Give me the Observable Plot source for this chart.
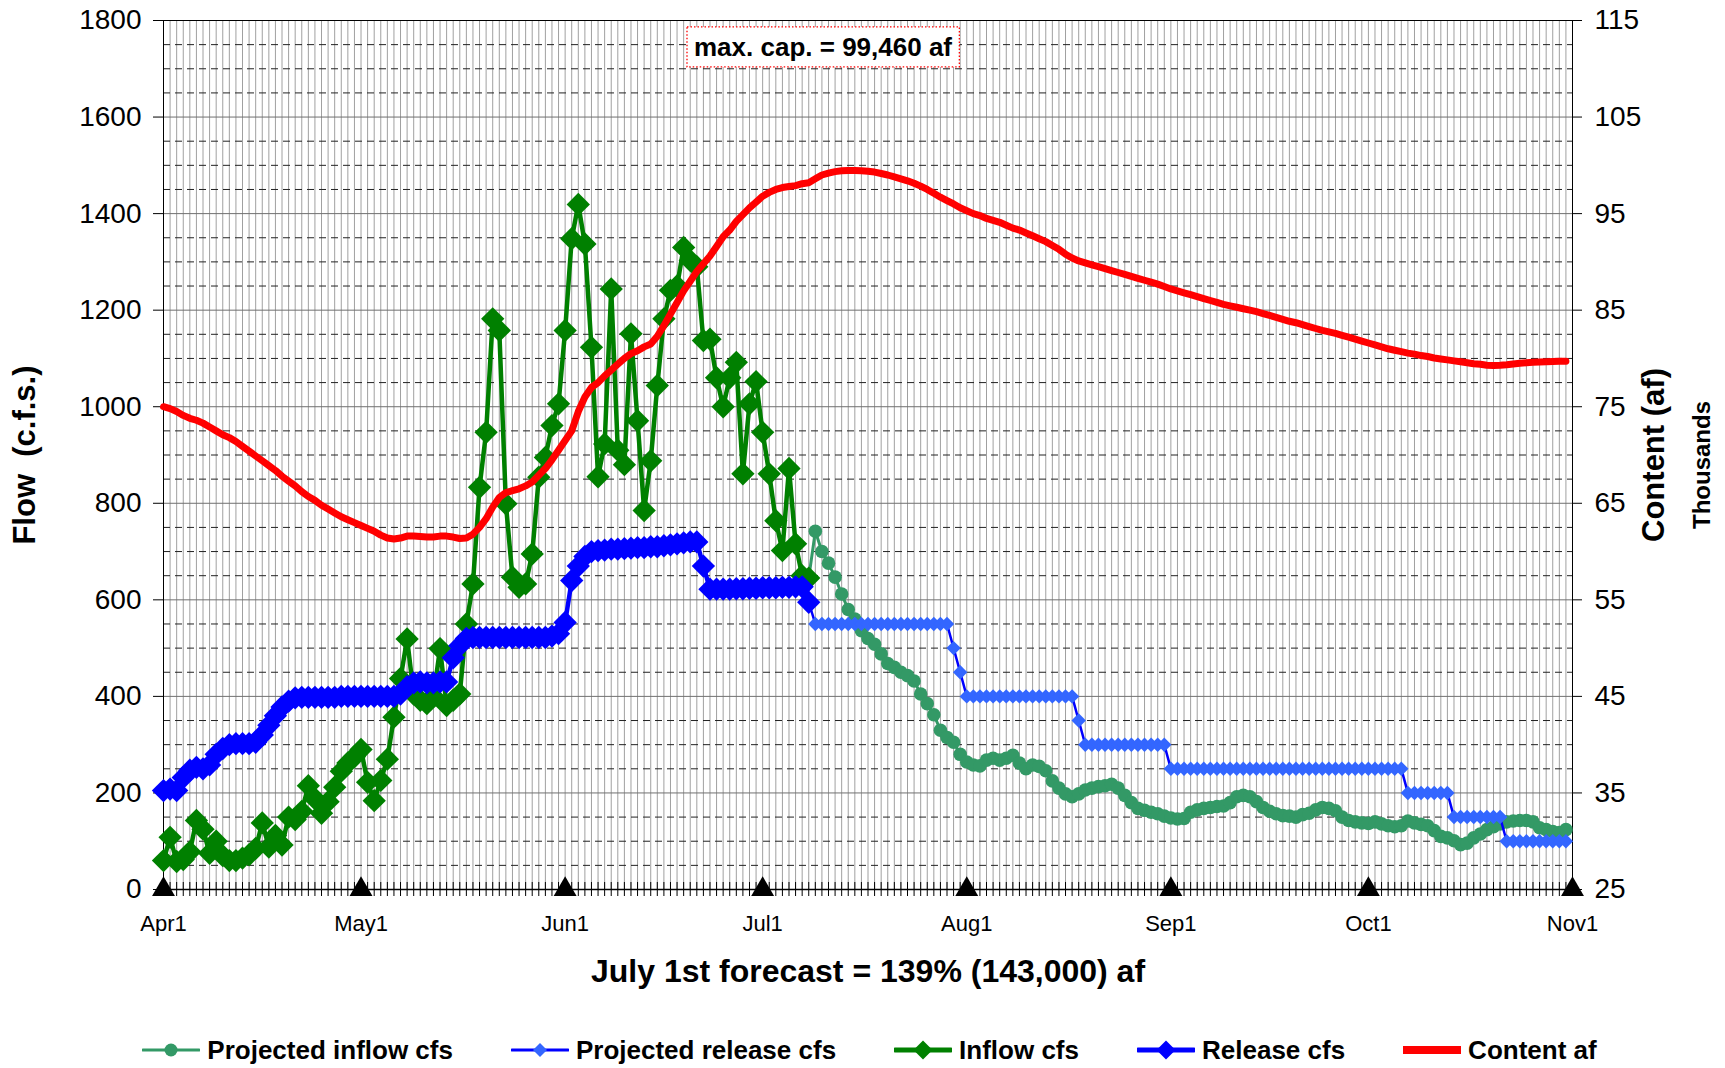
<!DOCTYPE html>
<html><head><meta charset="utf-8">
<script src="https://cdn.jsdelivr.net/npm/d3@7"></script>
<script src="https://cdn.jsdelivr.net/npm/@observablehq/plot@0.6"></script>
<style>
html,body{margin:0;background:#fff;font-family:"Liberation Sans",Arial,sans-serif;overflow:hidden;}
#legend{display:flex;justify-content:center;align-items:center;height:36px;margin-top:32px;padding-left:14px;font-weight:bold;font-size:26px;line-height:36px;color:#000;}
.li{display:flex;align-items:center;margin:0 29px;}
.li svg{margin-right:7px;}
</style></head><body>
<div id="chart" style="height:1000px"></div>
<div id="legend"></div>
<script>
// ---------- data ----------
const firstDay = "2011-04-01";          // day 0 of the observed series
const axisStart = "2011-04-01";
const axisEnd = "2011-11-01";
const projectedStart = "2011-07-08";    // projected series start date

const monthTicks = ["2011-04-01","2011-05-01","2011-06-01","2011-07-01","2011-08-01","2011-09-01","2011-10-01","2011-11-01"];
const monthLabels = ["Apr1","May1","Jun1","Jul1","Aug1","Sep1","Oct1","Nov1"];
const flowTicks = [0,200,400,600,800,1000,1200,1400,1600,1800];
const flowMinor = [50,100,150,250,300,350,450,500,550,650,700,750,850,900,950,1050,1100,1150,1250,1300,1350,1450,1500,1550,1650,1700,1750];
const contentTicks = [25,35,45,55,65,75,85,95,105,115];

// Inflow cfs (observed), daily from Apr 1
const inflow = [
 60,108,58,62,78,143,125,75,100,70,
 60,60,65,72,85,138,88,112,92,150,
 145,162,215,188,158,182,212,245,262,275,
 290,222,184,226,270,357,437,519,405,392,
 385,400,499,381,392,405,550,633,833,947,
 1182,1158,799,647,626,633,695,854,895,961,
 1006,1158,1348,1419,1337,1123,855,923,1244,910,
 880,1151,971,785,888,1044,1182,1241,1250,1330,
 1303,1290,1137,1140,1060,1000,1060,1092,861,1006,
 1052,947,861,764,702,872,716,650,645];

// Release cfs (observed), daily from Apr 1
const release = [
 205,208,205,232,247,253,250,258,280,292,
 300,302,302,302,305,320,340,360,378,390,
 397,398,398,398,398,398,398,400,400,400,
 400,400,400,400,400,400,405,420,428,430,
 428,428,430,430,480,505,520,522,522,522,
 522,522,522,522,522,522,522,522,522,525,
 530,553,640,670,690,700,702,703,705,705,
 706,707,708,708,710,710,712,714,716,718,
 720,720,670,622,622,622,622,623,623,624,
 624,625,625,625,626,626,627,627,595];

// Projected inflow cfs, daily from Jul 8
const projInflow = [
 645,742,700,676,647,612,580,560,536,520,
 508,488,468,460,450,443,432,405,385,362,
 330,315,305,280,264,258,256,268,272,268,
 272,278,262,250,258,255,246,225,210,198,
 192,198,206,210,213,215,218,210,195,180,
 168,164,160,157,152,148,146,147,160,165,
 168,170,172,173,180,192,195,192,182,170,
 162,157,153,152,150,155,158,165,170,168,
 163,150,143,140,138,137,140,136,132,130,
 132,142,138,135,132,122,110,107,101,93,
 96,107,115,124,130,136,140,142,143,143,
 140,128,124,120,118,124];

// Projected release cfs, daily from Jul 8
const projRelease = [
 595,550,550,550,550,550,550,550,550,550,
 550,550,550,550,550,550,550,550,550,550,
 550,550,500,450,400,400,400,400,400,400,
 400,400,400,400,400,400,400,400,400,400,
 400,350,300,300,300,300,300,300,300,300,
 300,300,300,300,300,250,250,250,250,250,
 250,250,250,250,250,250,250,250,250,250,
 250,250,250,250,250,250,250,250,250,250,
 250,250,250,250,250,250,250,250,250,250,
 250,200,200,200,200,200,200,200,150,150,
 150,150,150,150,150,150,100,100,100,100,
 100,100,100,100,100,100];

// Content (thousand af), daily from Apr 1
const content = [
 75.0,74.8,74.5,74.1,73.8,73.6,73.3,72.9,72.5,72.1,
 71.8,71.4,70.9,70.4,69.9,69.4,68.9,68.4,67.8,67.3,
 66.8,66.2,65.7,65.3,64.8,64.4,64.0,63.6,63.3,63.0,
 62.7,62.4,62.1,61.7,61.4,61.3,61.4,61.6,61.6,61.55,
 61.5,61.5,61.6,61.6,61.5,61.35,61.4,61.8,62.5,63.4,
 64.6,65.6,66.1,66.3,66.5,66.8,67.2,67.9,68.6,69.5,
 70.5,71.5,72.5,74.5,76.0,77.0,77.5,78.2,78.8,79.4,
 80.0,80.5,80.8,81.2,81.5,82.3,83.4,84.6,85.8,87.0,
 88.0,89.0,89.8,90.6,91.6,92.6,93.3,94.2,94.9,95.6,
 96.2,96.8,97.2,97.5,97.7,97.8,97.9,98.1,98.2,98.6,
 99.0,99.2,99.35,99.43,99.46,99.46,99.44,99.38,99.3,99.15,
 99.0,98.8,98.6,98.4,98.15,97.85,97.5,97.1,96.7,96.35,
 96.0,95.6,95.3,95.0,94.8,94.5,94.3,94.1,93.8,93.5,
 93.3,93.0,92.7,92.4,92.1,91.7,91.3,90.8,90.4,90.1,
 89.9,89.7,89.5,89.3,89.1,88.9,88.7,88.5,88.3,88.1,
 87.9,87.7,87.45,87.2,87.0,86.8,86.6,86.4,86.2,86.0,
 85.8,85.6,85.45,85.3,85.15,85.0,84.85,84.65,84.45,84.25,
 84.05,83.85,83.7,83.5,83.3,83.1,82.9,82.75,82.6,82.4,
 82.2,82.0,81.8,81.6,81.4,81.2,81.0,80.85,80.7,80.55,
 80.45,80.3,80.2,80.05,79.95,79.85,79.75,79.65,79.55,79.45,
 79.4,79.3,79.27,79.3,79.35,79.42,79.5,79.55,79.6,79.63,
 79.66,79.68,79.7,79.72];

const maxCapText = "max. cap. = 99,460 af";
const xTitle = "July 1st forecast = 139% (143,000) af";
const yTitle = "Flow  (c.f.s.)";
const y2Title = "Content (af)";
const y2Sub = "Thousands";

const legendItems = [
 {label:"Projected inflow cfs", line:"#339966", lw:3, marker:"circle", mfill:"#339966", ms:6.5},
 {label:"Projected release cfs", line:"#0000ff", lw:3, marker:"diamond", mfill:"#3366ff", ms:7},
 {label:"Inflow cfs", line:"#008000", lw:5, marker:"diamond", mfill:"#008000", ms:9.5},
 {label:"Release cfs", line:"#0000ff", lw:5, marker:"diamond", mfill:"#0000ff", ms:9.5},
 {label:"Content af", line:"#ff0000", lw:8, marker:null}
];

// ---------- helpers ----------
const parse = d3.utcParse("%Y-%m-%d");
const series = (arr, start) => arr.map((v, i) => ({date: d3.utcDay.offset(parse(start), i), v}));
const inflowData = series(inflow, firstDay);
const releaseData = series(release, firstDay);
const projInData = series(projInflow, projectedStart);
const projRelData = series(projRelease, projectedStart);
const contentData = series(content, firstDay);
const days = d3.utcDay.range(parse(axisStart), d3.utcDay.offset(parse(axisEnd), 1));
const months = monthTicks.map(parse);
// secondary axis (content, thousands) mapped onto the flow scale
const fMax = flowTicks[flowTicks.length-1], cMin = contentTicks[0], cMax = contentTicks[contentTicks.length-1];
const c2f = c => (c - cMin) * fMax / (cMax - cMin);
const f2c = f => cMin + f * (cMax - cMin) / fMax;

const FONT = '"Liberation Sans", Arial, sans-serif';

const chart = Plot.plot({
  width: 1725, height: 1000,
  marginLeft: 163, marginRight: 153, marginTop: 20, marginBottom: 111,
  style: {fontFamily: FONT, fontSize: "22px", color: "#000", background: "#fff", overflow: "visible"},
  x: {type: "utc", domain: [parse(axisStart), parse(axisEnd)]},
  y: {domain: [0, fMax]},
  marks: [
    Plot.ruleX(days, {x: d => d, stroke: "#a0a0a0", strokeWidth: 1}),
    Plot.ruleY(flowMinor, {y: d => d, stroke: "#222", strokeWidth: 1, strokeDasharray: "7,5"}),
    Plot.ruleY(flowTicks, {y: d => d, stroke: "#707070", strokeWidth: 1}),
    Plot.frame({stroke: "#000", strokeWidth: 1}),
    Plot.ruleX(days, {x: d => d, y1: -14.5, y2: 14.5, stroke: "#000", strokeWidth: 1}),
    Plot.ruleY([0], {y: d => d, stroke: "#000", strokeWidth: 1.5}),
    Plot.axisY({anchor: "left", ticks: flowTicks, tickSize: 10, tickPadding: 12, fontSize: 28, tickFormat: d => String(d), label: null}),
    Plot.axisY({anchor: "right", ticks: flowTicks, tickSize: 9, tickPadding: 13, fontSize: 28, tickFormat: d => String(f2c(d)), label: null}),
    Plot.axisX({ticks: months, tickSize: 0, tickPadding: 26, fontSize: 22, tickFormat: d => monthLabels[months.findIndex(m => +m === +d)], label: null}),
    // projected inflow
    Plot.line(projInData, {x: "date", y: "v", stroke: "#339966", strokeWidth: 3}),
    Plot.dot(projInData.slice(1), {x: "date", y: "v", r: 6.8, fill: "#339966", stroke: "none"}),
    // projected release
    Plot.line(projRelData, {x: "date", y: "v", stroke: "#0000ff", strokeWidth: 2.5}),
    Plot.dot(projRelData.slice(1), {x: "date", y: "v", r: 6.5, symbol: "diamond2", fill: "#3366ff", stroke: "none"}),
    // inflow
    Plot.line(inflowData, {x: "date", y: "v", stroke: "#008000", strokeWidth: 4.5, strokeLinejoin: "round"}),
    Plot.dot(inflowData, {x: "date", y: "v", r: 10.5, symbol: "diamond2", fill: "#008000", stroke: "none"}),
    // release
    Plot.line(releaseData, {x: "date", y: "v", stroke: "#0000ff", strokeWidth: 4.5}),
    Plot.dot(releaseData, {x: "date", y: "v", r: 10.5, symbol: "diamond2", fill: "#0000ff", stroke: "none"}),
    // content (secondary axis)
    Plot.line(contentData, {x: "date", y: d => c2f(d.v), stroke: "#ff0000", strokeWidth: 7, strokeLinejoin: "round", strokeLinecap: "round"}),
    // month markers on the axis
    Plot.dot(months, {x: d => d, y: d => 0, symbol: "triangle", r: 8.5, fill: "#000", stroke: "none"}),
    // titles
    Plot.text([yTitle], {text: d => d, frameAnchor: "left", textAnchor: "middle", dx: -138, rotate: -90, fontSize: 31, fontWeight: "bold"}),
    Plot.text([y2Title], {text: d => d, frameAnchor: "right", textAnchor: "middle", dx: 82, rotate: -90, fontSize: 31, fontWeight: "bold"}),
    Plot.text([y2Sub], {text: d => d, frameAnchor: "right", textAnchor: "middle", dx: 130, dy: 10, rotate: -90, fontSize: 24, fontWeight: "bold"}),
    Plot.text([xTitle], {text: d => d, frameAnchor: "bottom", dy: 92, fontSize: 32, fontWeight: "bold"}),
    Plot.text([maxCapText], {text: d => d, frameAnchor: "top", dx: -45, dy: 17, fontSize: 26, fontWeight: "bold"})
  ]
});
document.getElementById("chart").appendChild(chart);

// dotted red box behind the max-capacity note
(function(){
  const t = Array.from(chart.querySelectorAll("text")).find(e => e.textContent === maxCapText);
  if (!t) return;
  const bb = t.getBBox();
  const r = document.createElementNS("http://www.w3.org/2000/svg", "rect");
  r.setAttribute("x", bb.x - 7);
  r.setAttribute("y", bb.y - 5);
  r.setAttribute("width", bb.width + 14);
  r.setAttribute("height", bb.height + 10);
  r.setAttribute("fill", "#fff");
  r.setAttribute("stroke", "#ff0000");
  r.setAttribute("stroke-width", "1.3");
  r.setAttribute("stroke-dasharray", "1.5,2");
  const tr = t.getAttribute("transform");
  if (tr) r.setAttribute("transform", tr);
  t.parentNode.insertBefore(r, t);
})();

// legend
const lg = document.getElementById("legend");
legendItems.forEach(it => {
  const div = document.createElement("div");
  div.className = "li";
  const W = 58, H = 24;
  let m = "";
  if (it.marker === "circle") m = `<circle cx="${W/2}" cy="${H/2}" r="${it.ms}" fill="${it.mfill}"/>`;
  else if (it.marker === "diamond") m = `<path d="M${W/2},${H/2-it.ms}L${W/2+it.ms},${H/2}L${W/2},${H/2+it.ms}L${W/2-it.ms},${H/2}Z" fill="${it.mfill}"/>`;
  div.innerHTML = `<svg width="${W}" height="${H}"><line x1="1" x2="${W-1}" y1="${H/2}" y2="${H/2}" stroke="${it.line}" stroke-width="${it.lw}" stroke-linecap="round"/>${m}</svg><span>${it.label}</span>`;
  lg.appendChild(div);
});
</script>
</body></html>
